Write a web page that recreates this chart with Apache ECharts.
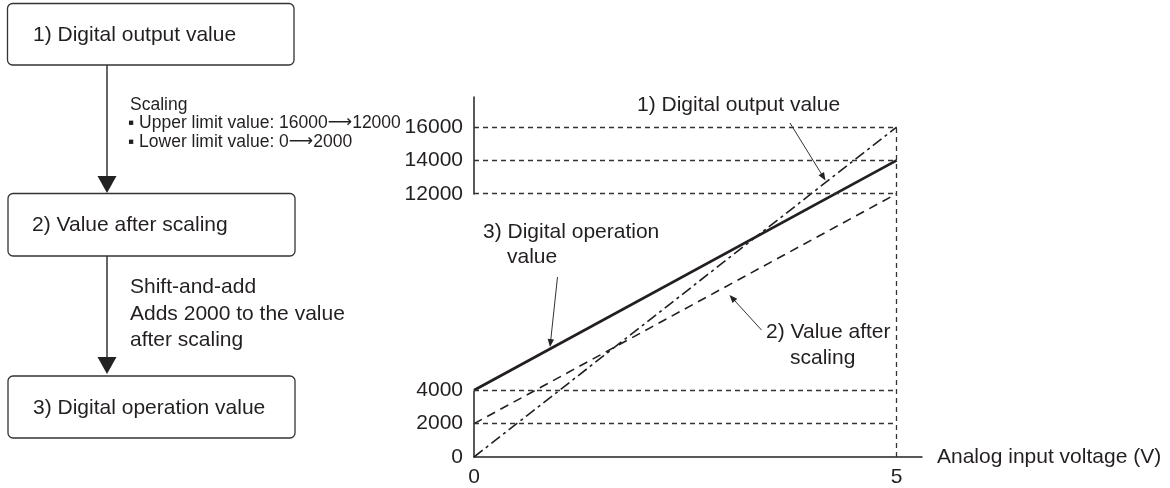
<!DOCTYPE html>
<html>
<head>
<meta charset="utf-8">
<title>Scaling / shift-and-add</title>
<script src="https://cdn.jsdelivr.net/npm/echarts@6.0.0/dist/echarts.min.js"></script>
<style>
    html, body { margin: 0; padding: 0; background: #fff; }
    #main { width: 1170px; height: 488px; }
</style>
</head>
<body>
<div id="main"></div>
<script>
    // data
    var voltage = [0, 5];                  // V
    var outputValue = [0, 16000];          // 1) Digital output value
    var scaledValue = [2000, 12000];       // 2) Value after scaling
    var operationValue = [4000, 14000];    // 3) Digital operation value
    var yTicks = [0, 2000, 4000, 12000, 14000, 16000];
    var xTicks = [0, 5];
    var guideLevels = [2000, 4000, 12000, 14000, 16000];

    var ink = '#231f20';
    var font = '"Liberation Sans", Arial, sans-serif';

    function pairs(ys) {
        var res = [];
        for (var i = 0; i < voltage.length; i++) {
            res.push([voltage[i], ys[i]]);
        }
        return res;
    }

    // dashed guide lines: horizontal ones up to 5 V, plus the vertical one at 5 V
    var guides = [];
    for (var i = 0; i < guideLevels.length; i++) {
        guides.push([{coord: [0, guideLevels[i]]}, {coord: [voltage[1], guideLevels[i]]}]);
    }
    guides.push([{coord: [voltage[1], 0]}, {coord: [voltage[1], outputValue[1]]}]);

    // small helpers for the graphic part
    function label(txt, x, y, size) {
        return {
            type: 'text', x: x, y: y, silent: true,
            style: {
                text: txt, fill: ink, fontSize: size || 21, fontFamily: font,
                align: 'left', verticalAlign: 'middle',
                textAlign: 'left', textVerticalAlign: 'middle',
                rich: {
                    ar: {fontFamily: '"DejaVu Sans", sans-serif', fontSize: 17, fill: ink, color: ink}
                }
            }
        };
    }

    function arrow(x1, y1, x2, y2, len, half, w) {
        var dx = x2 - x1, dy = y2 - y1;
        var d = Math.sqrt(dx * dx + dy * dy);
        var ux = dx / d, uy = dy / d;
        var bx = x2 - ux * len, by = y2 - uy * len;
        return [{
            type: 'line', silent: true,
            shape: {x1: x1, y1: y1, x2: bx + ux, y2: by + uy},
            style: {stroke: '#333', lineWidth: w}
        }, {
            type: 'polygon', silent: true,
            shape: {points: [[x2, y2], [bx - uy * half, by + ux * half], [bx + uy * half, by - ux * half]]},
            style: {fill: '#222'}
        }];
    }

    function box(x, y, w, h) {
        return {
            type: 'rect', silent: true,
            shape: {x: x, y: y, width: w, height: h, r: 5},
            style: {fill: '#fff', stroke: '#333', lineWidth: 1.3}
        };
    }

    var graphics = [];
    // flowchart on the left
    graphics.push(box(7.5, 3.5, 286.5, 61.5));
    graphics.push(box(8, 193.5, 287, 62.5));
    graphics.push(box(8, 376, 287, 62));
    graphics.push(label('1) Digital output value', 33, 35));
    graphics.push(label('2) Value after scaling', 32, 225));
    graphics.push(label('3) Digital operation value', 33, 408));
    graphics = graphics.concat(arrow(107, 65, 107, 193, 17, 9.5, 1.5));
    graphics = graphics.concat(arrow(107, 256, 107, 374, 17, 9.5, 1.5));
    graphics.push(label('Scaling', 130, 105, 17.5));
    graphics.push(label('\u25aa Upper limit value: 16000{ar|\u27f6}12000', 128, 123, 17.5));
    graphics.push(label('\u25aa Lower limit value: 0{ar|\u27f6}2000', 128, 142, 17.5));
    graphics.push(label('Shift-and-add', 130, 287.5));
    graphics.push(label('Adds 2000 to the value', 130, 314));
    graphics.push(label('after scaling', 130, 340));

    // callouts inside the chart
    graphics.push(label('1) Digital output value', 637, 105.5));
    graphics = graphics.concat(arrow(790, 123, 825.5, 180.5, 8, 3.2, 1));
    graphics.push(label('3) Digital operation', 483, 232));
    graphics.push(label('value', 507, 257));
    graphics = graphics.concat(arrow(557.5, 277, 550, 347, 8, 3.2, 1));
    graphics.push(label('2) Value after', 766, 332.5));
    graphics.push(label('scaling', 790, 358));
    graphics = graphics.concat(arrow(761.5, 330, 729.5, 295, 8, 3.2, 1));

    var chart = echarts.init(document.getElementById('main'));

    var option = {
        animation: false,
        backgroundColor: '#fff',
        grid: {left: 474, right: 248, top: 97, bottom: 29, containLabel: false},
        xAxis: {
            type: 'value', min: 0, max: 5.3,
            name: 'Analog input voltage (V)',
            nameLocation: 'end', nameGap: 15,
            nameTextStyle: {color: ink, fontSize: 21, fontFamily: font},
            axisLine: {onZero: false, lineStyle: {color: '#222', width: 1.5}},
            axisTick: {show: false},
            splitLine: {show: false},
            axisLabel: {customValues: xTicks, color: ink, fontSize: 21, fontFamily: font, margin: 10}
        },
        yAxis: {
            type: 'value', min: 0, max: 17800,
            // the drawing stretches the 4000..12000 span
            breaks: [{start: 4000, end: 12000, gap: '54.6%'}],
            breakArea: {show: false},
            axisLine: {show: true, onZero: false, lineStyle: {color: '#222', width: 1.5}},
            axisTick: {show: false},
            splitLine: {show: false},
            axisLabel: {
                customValues: yTicks, color: ink, fontSize: 21, fontFamily: font, margin: 11,
                formatter: function (v) { return String(v); }
            }
        },
        series: [
            {
                // only carries the guide lines
                type: 'line', data: [], z: 1, silent: true,
                markLine: {
                    silent: true, symbol: ['none', 'none'], animation: false,
                    label: {show: false},
                    lineStyle: {color: '#333', width: 1.3, type: [5, 4]},
                    emphasis: {disabled: true},
                    data: guides
                }
            },
            {
                name: '1) Digital output value', type: 'line', z: 3,
                data: pairs(outputValue), showSymbol: false, silent: true,
                lineStyle: {color: ink, width: 1.6, type: [11, 4, 3, 4]}
            },
            {
                name: '2) Value after scaling', type: 'line', z: 3,
                data: pairs(scaledValue), showSymbol: false, silent: true,
                lineStyle: {color: ink, width: 1.6, type: [9, 6]}
            },
            {
                name: '3) Digital operation value', type: 'line', z: 4,
                data: pairs(operationValue), showSymbol: false, silent: true,
                lineStyle: {color: ink, width: 2.8}
            }
        ],
        graphic: graphics
    };

    chart.setOption(option);
</script>
</body>
</html>
